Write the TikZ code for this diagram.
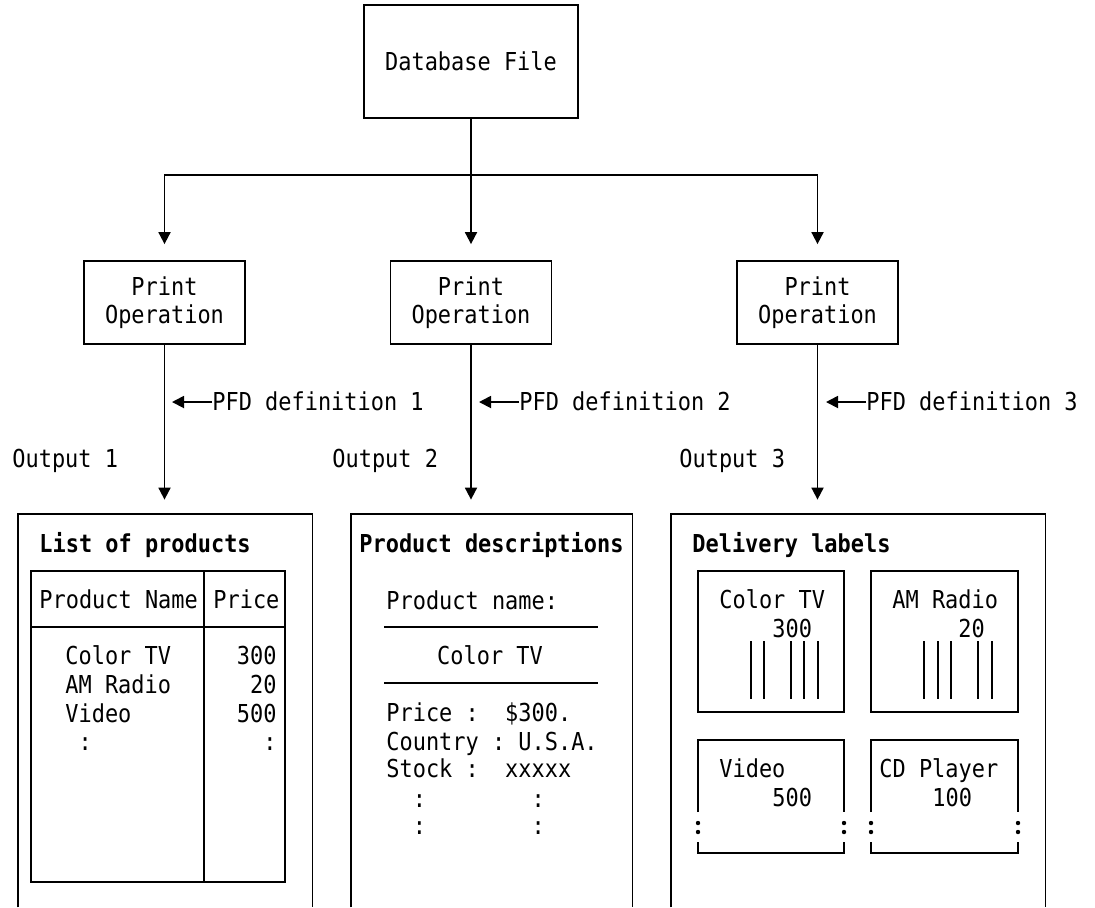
\documentclass[tikz,border=0pt]{standalone}
\usepackage{fontspec}
\setmonofont[FakeStretch=0.888]{DejaVu Sans Mono}
\usetikzlibrary{arrows.meta}
\frenchspacing
\newcommand\diagfont{\ttfamily\fontsize{12.35pt}{14pt}\selectfont}

\tikzset{
  box/.style={draw, line width=0.9pt, inner sep=0pt, align=center},
  frame/.style={inner sep=0pt, minimum height=196.5pt},
  txt/.style={inner sep=0pt, anchor=base west},
  txtr/.style={inner sep=0pt, anchor=base east},
  txtc/.style={inner sep=0pt, anchor=base},
  title/.style={txt, font=\diagfont\bfseries},
  edge/.style={line width=0.9pt},
  flow/.style={line width=0.9pt, -{Triangle[length=6pt,width=6pt]}},
  dot/.style={fill=black},
}

\begin{document}
\begin{tikzpicture}[x=0.5pt, y=-0.5pt, font=\diagfont]
\useasboundingbox (0,0) rectangle (1095,907);

% source file and the three print operations
\node[box, minimum width=107pt, minimum height=56.5pt] (db) at (471,61.5) {Database~File};
\node[box, minimum width=80.5pt, minimum height=41.5pt] (p1) at (164.5,302.5) {Print\\Operation};
\node[box, minimum width=80.5pt, minimum height=41.5pt] (p2) at (471,302.5) {Print\\Operation};
\node[box, minimum width=80.5pt, minimum height=41.5pt] (p3) at (817.5,302.5) {Print\\Operation};

\coordinate (bus) at (471,175);
\draw[flow, shorten >=8pt] (db.south) -- (p2.north);
\draw[flow, shorten >=8pt] (bus) -| (p1.north);
\draw[flow, shorten >=8pt] (bus) -| (p3.north);

% output frames (open at the bottom)
\node[frame, minimum width=147pt] (o1) at (165,710.5) {};
\node[frame, minimum width=140.5pt] (o2) at (491.5,710.5) {};
\node[frame, minimum width=187pt] (o3) at (858,710.5) {};
\foreach \o in {o1,o2,o3}
  \draw[edge] (\o.south west) -- (\o.north west) -- (\o.north east) -- (\o.south east);

\draw[flow, shorten >=7pt] (p1.south) -- (p1.south |- o1.north);
\draw[flow, shorten >=7pt] (p2.south) -- (p2.south |- o2.north);
\draw[flow, shorten >=7pt] (p3.south) -- (p3.south |- o3.north);

% PFD definitions feeding each print operation
\node[txt] (d1) at (212,410) {PFD~definition~1};
\node[txt] (d2) at (519,410) {PFD~definition~2};
\node[txt] (d3) at (866,410) {PFD~definition~3};
\coordinate (d1tip) at (172,402);
\coordinate (d2tip) at (479,402);
\coordinate (d3tip) at (826,402);
\draw[flow] (d1.west |- d1tip) -- (d1tip);
\draw[flow] (d2.west |- d2tip) -- (d2tip);
\draw[flow] (d3.west |- d3tip) -- (d3tip);

\node[txt] (out1) at (12,467) {Output~1};
\node[txt] (out2) at (332,467) {Output~2};
\node[txt] (out3) at (679,467) {Output~3};

% Output 1: product list
\node[title] (t1) at (39,552) {List~of~products};
\draw[edge] (31,571) rectangle (285,882);
\draw[edge] (204,571) -- (204,882);
\draw[edge] (31,627) -- (285,627);
\node[txt] (h1) at (39,608) {Product~Name};
\node[txt] (h2) at (213,608) {Price};
\node[txt] (n1) at (65,664) {Color~TV};
\node[txt] (n2) at (65,693) {AM~Radio};
\node[txt] (n3) at (65,722) {Video};
\node[txt] (n4) at (65,750) {~:};
\node[txtr] (v1) at (277,664) {300};
\node[txtr] (v2) at (277,693) {20};
\node[txtr] (v3) at (277,722) {500};
\node[txtr] (v4) at (277,750) {:~};

% Output 2: product description
\node[title] (t2) at (359,552) {Product~descriptions};
\node[txt] (m1) at (386,609) {Product~name:};
\draw[edge] (384,627) -- (598,627);
\node[txtc] (m2) at (490,664) {Color~TV};
\draw[edge] (384,683) -- (598,683);
\node[txt] (m3) at (386,721) {Price~:~~\$300.};
\node[txt] (m4) at (386,750) {Country~:~U.S.A.};
\node[txt] (m5) at (386,777) {Stock~:~~xxxxx};
\node[txt] (m6) at (386,807) {~~:~~~~~~~~:};
\node[txt] (m7) at (386,834) {~~:~~~~~~~~:};

% Output 3: delivery labels
\node[title] (t3) at (692,552) {Delivery~labels};
\draw[edge] (698,571) rectangle (844,712);
\draw[edge] (871,571) rectangle (1018,712);
\node[txt] (l1a) at (719,608) {Color~TV};
\node[txt] (l1b) at (772,637) {300};
\node[txt] (l2a) at (892,608) {AM~Radio};
\node[txt] (l2b) at (958,637) {20};
\foreach \x in {751,764,791,804,818} \draw[edge] (\x,641) -- (\x,699);
\foreach \x in {924,938,951,978,992} \draw[edge] (\x,641) -- (\x,699);

\foreach \a/\b in {698/844, 871/1018} {
  \draw[edge] (\a,812) -- (\a,740) -- (\b,740) -- (\b,812);
  \draw[edge] (\a,842) -- (\a,853) -- (\b,853) -- (\b,842);
  \foreach \e in {\a,\b} {
    \fill[dot] (\e,823) circle[radius=1.1pt];
    \fill[dot] (\e,832) circle[radius=1.1pt];
  }
}
\node[txt] (l3a) at (719,777) {Video};
\node[txt] (l3b) at (772,806) {500};
\node[txt] (l4a) at (879,777) {CD~Player};
\node[txt] (l4b) at (932,806) {100};
\end{tikzpicture}
\end{document}
